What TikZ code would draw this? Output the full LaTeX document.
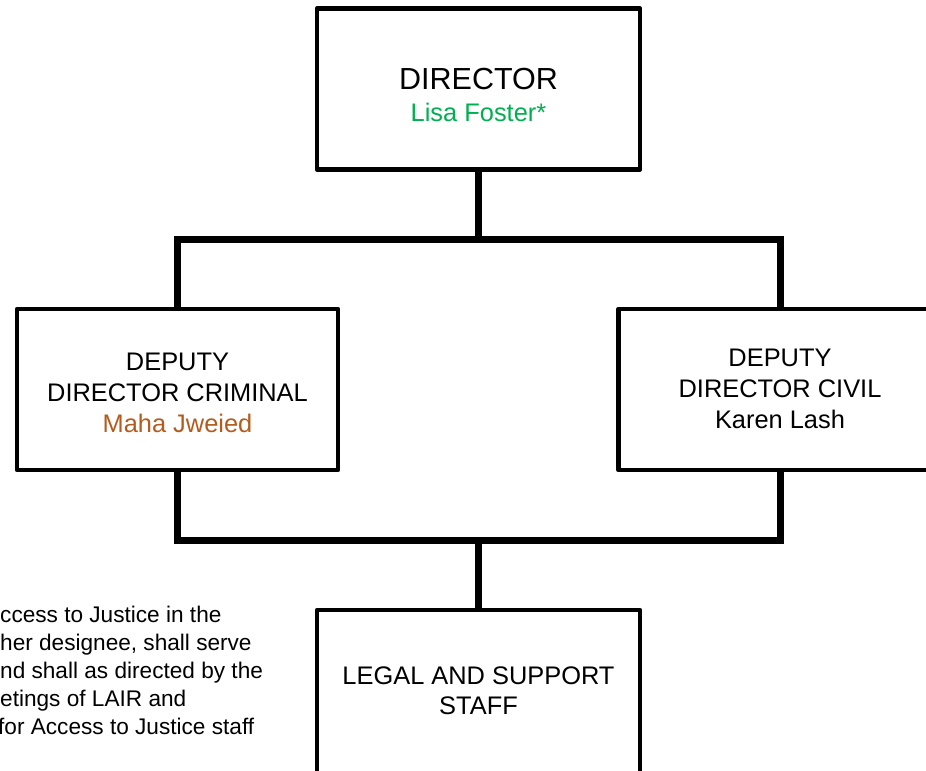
\documentclass[tikz,border=0pt]{standalone}
\usepackage{fontspec}
\setmainfont{Liberation Sans}
\definecolor{namegreen}{HTML}{00B050}
\definecolor{namebrown}{HTML}{B35C1E}
\begin{document}
\begin{tikzpicture}[x=1bp,y=-1bp,
  box/.style={draw=black, line width=4.5bp, line join=round, rectangle,
    inner sep=0pt, minimum width=323bp, minimum height=161bp},
  link/.style={draw=black, line width=7bp, line join=miter},
  label/.style={inner sep=0pt, anchor=base},
  bigtext/.style={label, font=\fontsize{30.6}{36}\selectfont},
  midtext/.style={label, font=\fontsize{25.5}{30}\selectfont},
  notetext/.style={inner sep=0pt, anchor=base west, font=\fontsize{22.7}{28}\selectfont}]
\useasboundingbox (0,0) rectangle (926,771);
\clip (0,0) rectangle (926,771);

% boxes
\node[box] (dir) at (478.5,89) {};
\node[box, minimum width=321bp] (crim) at (177.5,389.5) {};
\node[box] (civil) at (780,389.5) {};
\node[box, minimum height=170bp] (staff) at (478.5,695) {};

% junction points of the two bars
\coordinate (topbar) at (478.5,239);
\coordinate (lowbar) at (478.5,540);

% connectors
\draw[link] (dir.south) -- (topbar);
\draw[link] (crim.north) -- (crim.north |- topbar) -| (civil.north);
\draw[link] (crim.south) -- (crim.south |- lowbar) -| (civil.south);
\draw[link] (lowbar) -- (staff.north);

% box texts
\node[bigtext] (dirtitle) at (478.5,90) {DIRECTOR};
\node[midtext, text=namegreen] (dirname) at (478.5,121) {Lisa Foster*};

\node[midtext] (crimt1) at (177.5,370) {DEPUTY};
\node[midtext] (crimt2) at (177.5,401) {DIRECTOR CRIMINAL};
\node[midtext, text=namebrown] (crimname) at (177.5,432) {Maha Jweied};

\node[midtext] (civt1) at (780,366) {DEPUTY};
\node[midtext] (civt2) at (780,397) {DIRECTOR CIVIL};
\node[midtext] (civname) at (780,428) {Karen Lash};

\node[midtext] (stafft1) at (478.5,684) {LEGAL AND SUPPORT};
\node[midtext] (stafft2) at (478.5,714) {STAFF};

% footnote paragraph, running off the left edge
\node[notetext] (note1) at (0,622) {ccess to Justice in the};
\node[notetext] (note2) at (0,650) {her designee, shall serve};
\node[notetext] (note3) at (0,678) {nd shall as directed by the};
\node[notetext] (note4) at (0,706) {etings of LAIR and};
\node[notetext] (note5) at (-2,734) {for Access to Justice staff};
\end{tikzpicture}
\end{document}
